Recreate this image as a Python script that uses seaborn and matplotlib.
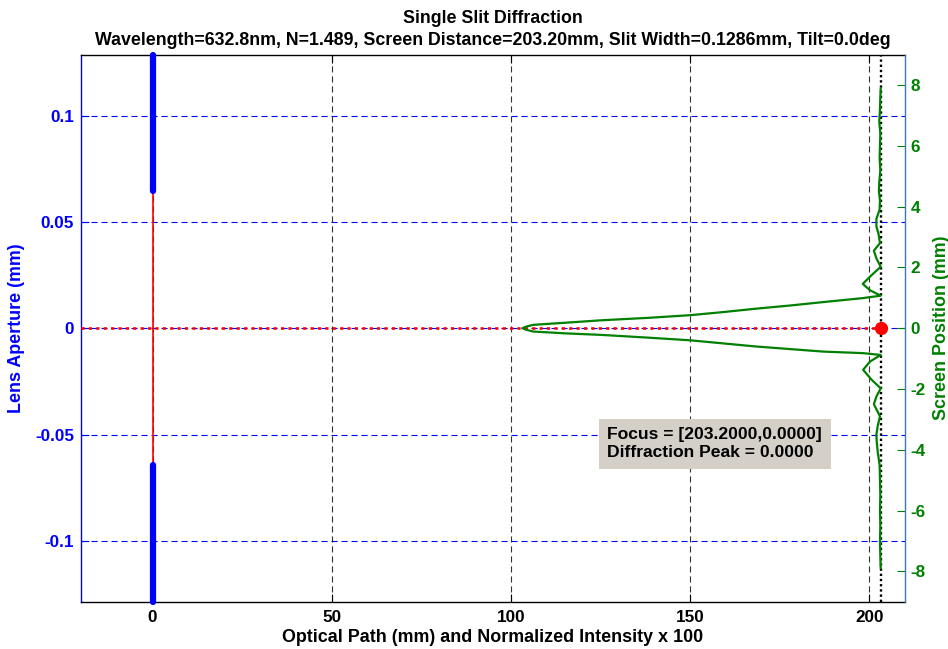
import matplotlib
matplotlib.use("Agg")
import matplotlib.pyplot as plt
import seaborn as sns
import pandas as pd

# Setup parameters
wavelength_nm = 632.8
refr_index = 1.489
screen_distance = 203.20   # mm
slit_width = 0.1286        # mm
tilt_deg = 0.0
lens_half_aperture = 0.1286  # mm

# Diffraction pattern on the screen: position (mm) and normalized intensity
screen_pos = [7.9, 7.6, 7.2, 6.8, 6.4, 6.0, 5.6, 5.2, 4.8, 4.5, 4.2, 3.9, 3.6, 3.35,
              3.1, 2.8, 2.55, 2.3, 2.02, 1.75, 1.46, 1.25, 1.07, 0.99, 0.86, 0.75,
              0.64, 0.53, 0.43, 0.34, 0.26, 0.18, 0.11, 0.05, 0.0, -0.05, -0.11,
              -0.17, -0.22, -0.31, -0.40, -0.50, -0.60, -0.69, -0.77, -0.82, -0.88,
              -1.1, -1.37, -1.7, -1.98, -2.25, -2.5, -2.9, -3.2, -3.5, -3.75, -4.1,
              -4.5, -5.0, -5.5, -6.0, -6.5, -7.0, -7.5, -7.9]
intensity = [0.0, 0.001, 0.002, 0.004, 0.001, 0.002, 0.003, 0.001, 0.004, 0.005, 0.002,
             0.003, 0.012, 0.012, 0.006, 0.002, 0.019, 0.012, 0.0, 0.025, 0.05, 0.03,
             0.0, 0.05, 0.16, 0.25, 0.35, 0.44, 0.53, 0.65, 0.78, 0.88, 0.97, 0.99,
             1.0, 0.99, 0.97, 0.88, 0.78, 0.65, 0.53, 0.44, 0.35, 0.25, 0.16, 0.05,
             0.0, 0.03, 0.049, 0.025, 0.0, 0.012, 0.019, 0.002, 0.008, 0.012, 0.011,
             0.008, 0.003, 0.002, 0.001, 0.002, 0.001, 0.002, 0.001, 0.0]

focus_x = 203.2
focus_y = 0.0
peak_pos = 0.0
intensity_scale = 100

x_ticks = [0, 50, 100, 150, 200]
left_ticks = [-0.1, -0.05, 0, 0.05, 0.1]
left_ticklabels = ["-0.1", "-0.05", "0", "0.05", "0.1"]
right_ticks = [-8, -6, -4, -2, 0, 2, 4, 6, 8]

sns.set_style("white")
plt.rcParams["font.family"] = ["Liberation Sans", "DejaVu Sans"]
plt.rcParams["font.weight"] = "bold"
plt.rcParams["axes.labelweight"] = "bold"
plt.rcParams["axes.titleweight"] = "bold"
plt.rcParams["text.color"] = "black"

fig = plt.figure(figsize=(9.48, 6.49), dpi=100)
ax = fig.add_axes([0.0854, 0.0729, 0.8693, 0.8428])
ax2 = ax.twinx()

ax.set_xlim(-20, 210)
ax.set_ylim(-lens_half_aperture, lens_half_aperture)
ax2.set_ylim(-9, 9)

# grids
ax.set_axisbelow(True)
ax.xaxis.grid(True, color="#333333", linestyle=(0, (5.5, 3.5)), linewidth=0.8)
ax.yaxis.grid(True, color="#0000ff", linestyle=(0, (5.5, 3.5)), linewidth=0.8)

# optical axis ray
ax.plot([-20, focus_x], [0, 0], color="red", linestyle=(0, (1.2, 1.6)), linewidth=1.9, zorder=3)

# slit opening and lens stops
half_slit = slit_width / 2
ax.plot([0, 0], [-half_slit, half_slit], color="red", linewidth=1.2, zorder=3)
ax.plot([0, 0], [half_slit, lens_half_aperture], color="blue", linewidth=4.5,
        solid_capstyle="round", clip_on=False, zorder=4)
ax.plot([0, 0], [-lens_half_aperture, -half_slit], color="blue", linewidth=4.5,
        solid_capstyle="round", clip_on=False, zorder=4)

# screen line
ax2.axvline(focus_x, color="black", linestyle=(0, (1, 1.2)), linewidth=1.7, zorder=2)

# diffraction profile drawn leftward from the screen
profile = pd.DataFrame({
    "pos": screen_pos,
    "path": [focus_x - intensity_scale * v for v in intensity],
})
sns.lineplot(data=profile, x="path", y="pos", sort=False, estimator=None,
             color="#008000", linewidth=1.6, ax=ax2, zorder=3)

# focus marker
ax2.plot([focus_x], [focus_y], marker="o", markersize=8.5, color="red",
         markeredgecolor="red", linestyle="none", zorder=5, clip_on=False)

ax.set_xticks(x_ticks)
ax.set_xticklabels([str(t) for t in x_ticks])
ax.set_yticks(left_ticks)
ax.set_yticklabels(left_ticklabels)
ax2.set_yticks(right_ticks)
ax2.set_yticklabels([str(t) for t in right_ticks])

ax.tick_params(axis="x", direction="in", top=True, bottom=True, length=6, width=0.8,
               colors="black", labelsize=12.3, pad=6)
ax.tick_params(axis="y", direction="in", left=True, right=False, length=6, width=0.8,
               colors="blue", labelsize=12.3, pad=5)
ax2.tick_params(axis="y", direction="in", right=True, length=6, width=0.8,
                colors="#008000", labelsize=12.3, pad=4)

for side in ["top", "bottom"]:
    ax.spines[side].set_color("black")
    ax.spines[side].set_linewidth(1.0)
ax.spines["left"].set_color("blue")
ax.spines["left"].set_linewidth(1.0)
ax.spines["right"].set_visible(False)
for side in ["top", "bottom", "left"]:
    ax2.spines[side].set_visible(False)
ax2.spines["right"].set_color("#3c78b4")
ax2.spines["right"].set_linewidth(1.0)

ax.set_xlabel("Optical Path (mm) and Normalized Intensity x 100", fontsize=12.9,
              color="black", labelpad=3)
ax.set_ylabel("Lens Aperture (mm)", fontsize=12.9, color="blue", labelpad=7)
ax2.set_ylabel("Screen Position (mm)", fontsize=12.9, color="#008000", labelpad=5)

ax.set_title("Single Slit Diffraction\n"
             f"Wavelength={wavelength_nm:.1f}nm, N={refr_index:.3f}, "
             f"Screen Distance={screen_distance:.2f}mm, Slit Width={slit_width:.4f}mm, "
             f"Tilt={tilt_deg:.1f}deg",
             fontsize=12.8, pad=7, linespacing=1.35, color="black")

ax.text(126.9, -0.0544,
        f"Focus = [{focus_x:.4f},{focus_y:.4f}]\nDiffraction Peak = {peak_pos:.4f}",
        fontsize=12.6, color="black", ha="left", va="center", linespacing=1.25,
        bbox=dict(boxstyle="square,pad=0.5", facecolor="#d4d0c8", edgecolor="none"),
        zorder=6)

fig.savefig("out.png", dpi=100, facecolor="white")
